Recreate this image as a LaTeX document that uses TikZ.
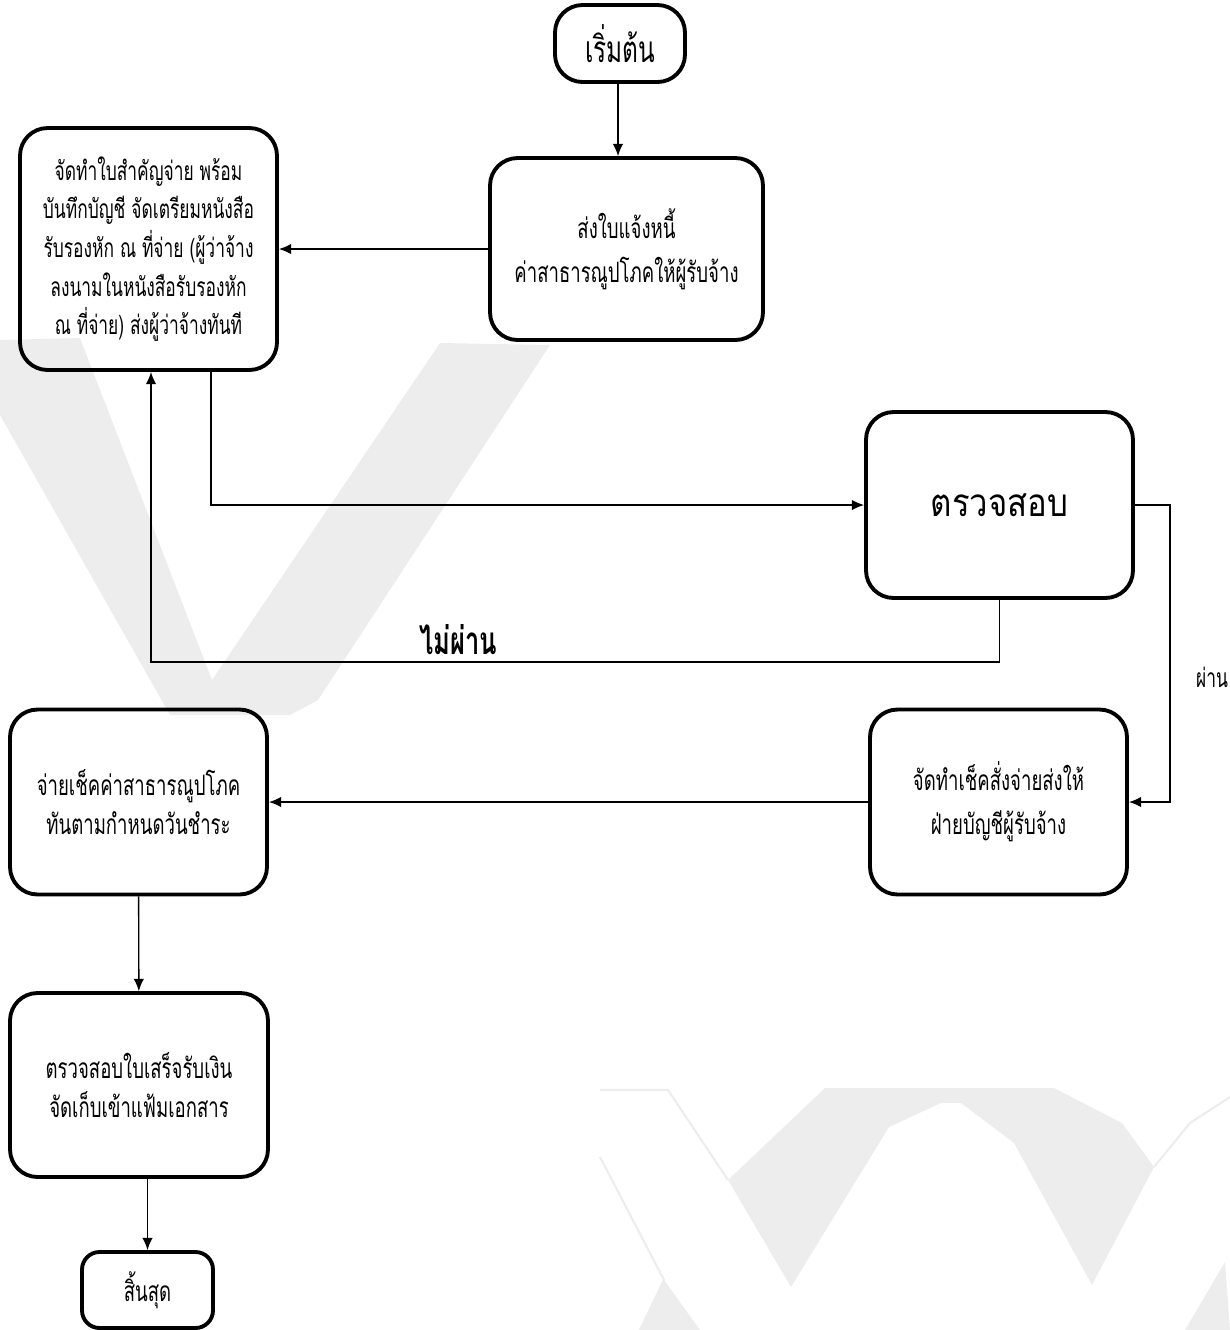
\documentclass[tikz,border=0pt]{standalone}
\usepackage{fontspec}
\setmainfont[Script=Thai, FakeStretch=0.66]{Loma}
\newfontfamily\widethai[Script=Thai, FakeStretch=0.85]{Loma}
\usepackage{tikz}
\usetikzlibrary{arrows.meta}

\begin{document}
\begin{tikzpicture}[x=0.02cm, y=-0.02cm]
                \useasboundingbox (0,0) rectangle (1230,1330);
                % faint watermark
                \begin{scope}[black!7]
                        \fill (0,340) -- (80,338) -- (212,680) -- (440,343) -- (550,345) -- (318,700) -- (290,715) -- (170,715) -- (0,415) -- cycle;
                        \fill (728,1180) -- (825,1088) -- (1054,1088) -- (1122,1123) -- (1154,1167) -- (1092,1285) -- (1014,1143) -- (961,1103) -- (941,1103) -- (889,1127) -- (791,1287) -- cycle;
                        \fill (640,1330) -- (664,1280) -- (700,1330) -- cycle;
                        \fill (1185,1330) -- (1225,1262) -- (1230,1330) -- cycle;
                        \draw[line width=1.2pt] (600,1090) -- (668,1090) -- (728,1180);
                        \draw[line width=1.2pt] (600,1157) -- (664,1280) -- (640,1330);
                        \draw[line width=1.2pt] (1154,1167) -- (1190,1123) -- (1230,1097);
                \end{scope}
                \begin{scope}[every node/.style={draw, line width=2.2pt, rounded corners=0.55cm, align=center, inner sep=2pt, font=\fontsize{16}{22}\selectfont}]
                        \node[minimum width=2.6cm, minimum height=1.54cm, font=\fontsize{21}{24}\selectfont] (start) at (620,43.5) {เริ่มต้น};
                        \node[minimum width=5.46cm, minimum height=3.64cm, font=\fontsize{16}{25}\selectfont] (send) at (626.5,249) {ส่งใบแจ้งหนี้\\ค่าสาธารณูปโภคให้ผู้รับจ้าง};
                        \node[minimum width=5.14cm, minimum height=4.84cm, font=\fontsize{15}{22}\selectfont] (prep) at (148.5,249) {จัดทำใบสำคัญจ่าย พร้อม\\บันทึกบัญชี จัดเตรียมหนังสือ\\รับรองหัก ณ ที่จ่าย (ผู้ว่าจ้าง\\ลงนามในหนังสือรับรองหัก\\ณ ที่จ่าย) ส่งผู้ว่าจ้างทันที};
                        \node[minimum width=5.34cm, minimum height=3.72cm, font=\widethai\fontsize{22}{26}\selectfont] (check) at (999.5,505) {ตรวจสอบ};
                        \node[minimum width=5.14cm, minimum height=3.7cm, font=\fontsize{16}{25}\selectfont] (cheque) at (998.5,802) {จัดทำเช็คสั่งจ่ายส่งให้\\ฝ่ายบัญชีผู้รับจ้าง};
                        \node[minimum width=5.14cm, minimum height=3.7cm] (pay) at (138.5,802) {จ่ายเช็คค่าสาธารณูปโภค\\ทันตามกำหนดวันชำระ};
                        \node[minimum width=5.16cm, minimum height=3.68cm] (verify) at (139,1085) {ตรวจสอบใบเสร็จรับเงิน\\จัดเก็บเข้าแฟ้มเอกสาร};
                        \node[minimum width=2.62cm, minimum height=1.52cm, rounded corners=0.35cm] (end) at (147.5,1290) {สิ้นสุด};
                \end{scope}
                \node[font=\fontsize{22}{24}\selectfont\bfseries] (fail) at (458,640) {ไม่ผ่าน};
                \node[font=\fontsize{15}{17}\selectfont] (pass) at (1212,677) {ผ่าน};
                \begin{scope}[every path/.style={line width=0.8pt, ->, >={Latex[length=7pt,width=6pt]}}]
                        \draw (start.south -| 618,0) -- (send.north -| 618,0);
                        \path (send) edge (prep);
                        \draw ([xshift=1.25cm]prep.south) |- (check.west);
                        \draw (check.south) -- ++(0,62) -| ([xshift=0.05cm]prep.south);
                        \draw (check.east) -- ++(35,0) |- (cheque.east);
                        \path (cheque) edge (pay);
                        \path (pay) edge (verify);
                        \draw (verify.south -| end.north) -- (end.north);
                \end{scope}
        \end{tikzpicture}
\end{document}
